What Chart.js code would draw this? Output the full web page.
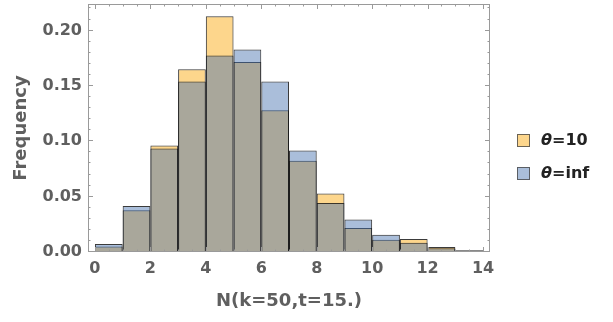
<!DOCTYPE html>
<html>
<head>
<meta charset="utf-8">
<script src="https://cdn.jsdelivr.net/npm/chart.js@4"></script>
<style>
  html, body { margin: 0; padding: 0; background: #fff; }
  canvas { display: block; }
</style>
</head>
<body>
<canvas id="chart" width="613" height="322"></canvas>
<script>
// histogram bins (left edges, width 1)
const binStarts = [0, 1, 2, 3, 4, 5, 6, 7, 8, 9, 10, 11, 12, 13];
const theta10 = [0.005, 0.0376, 0.0962, 0.165, 0.213, 0.1717, 0.128, 0.0824, 0.0529, 0.0217, 0.0111, 0.0117, 0.0045, 0.0016];
const thetaInf = [0.0072, 0.0415, 0.0935, 0.154, 0.1775, 0.183, 0.154, 0.0917, 0.0442, 0.0294, 0.0156, 0.0084, 0.0034, 0.0011];
const seriesLabels = ["θ=10", "θ=inf"];
const xTicks = [0, 2, 4, 6, 8, 10, 12, 14];
const yTicks = [0, 0.05, 0.10, 0.15, 0.20];

const FONT = "'DejaVu Sans', sans-serif";
const labelColor = "#5f5f5f";
const frameColor = "#9a9a9a";
const orange = "rgba(251, 164, 0, 0.45)";
const blue = "rgba(67, 111, 173, 0.45)";
const edge = "rgba(25, 25, 25, 0.85)";

function toPoints(values) {
  return values.map((v, i) => ({ x: binStarts[i] + 0.5, y: v }));
}

// frame with inward ticks on all four sides, like a Mathematica frame
const framePlugin = {
  id: "frame",
  afterDatasetsDraw(chart) {
    const { ctx, chartArea: a, scales: { x, y } } = chart;
    ctx.save();
    ctx.strokeStyle = frameColor;
    ctx.lineWidth = 1;
    ctx.strokeRect(a.left + 0.5, a.top + 0.5, a.right - a.left - 1, a.bottom - a.top - 1);
    ctx.beginPath();
    for (let k = 0; k <= 28; k++) {
      const v = k * 0.5;
      const px = Math.round(x.getPixelForValue(v)) + 0.5;
      const len = k % 4 === 0 ? 5 : 2.5;
      ctx.moveTo(px, a.bottom); ctx.lineTo(px, a.bottom - len);
      ctx.moveTo(px, a.top); ctx.lineTo(px, a.top + len);
    }
    for (let k = 0; k <= 22; k++) {
      const py = Math.round(y.getPixelForValue(k / 100)) - 0.5;
      const len = k % 5 === 0 ? 5 : 2.5;
      ctx.moveTo(a.left, py); ctx.lineTo(a.left + len, py);
      ctx.moveTo(a.right, py); ctx.lineTo(a.right - len, py);
    }
    ctx.stroke();
    ctx.restore();
  }
};

const legendPlugin = {
  id: "sideLegend",
  afterDraw(chart) {
    const { ctx } = chart;
    ctx.save();
    chart.data.datasets.forEach((ds, i) => {
      const cy = 140.5 + i * 33;
      ctx.fillStyle = "#fff";
      ctx.fillRect(517, cy - 6.5, 13, 13);
      ctx.fillStyle = ds.backgroundColor;
      ctx.fillRect(517, cy - 6.5, 13, 13);
      ctx.strokeStyle = "rgba(70,70,70,0.8)";
      ctx.lineWidth = 1;
      ctx.strokeRect(517.5, cy - 6, 12, 12);
      const text = ds.label;
      ctx.fillStyle = "#222";
      ctx.textBaseline = "middle";
      ctx.font = "italic bold 16px " + FONT;
      ctx.fillText(text[0], 541, cy);
      const w = ctx.measureText(text[0]).width;
      ctx.font = "bold 16px " + FONT;
      ctx.fillText(text.slice(1), 541 + w, cy);
    });
    ctx.restore();
  }
};

new Chart(document.getElementById("chart"), {
  type: "bar",
  data: {
    datasets: [
      {
        label: seriesLabels[0],
        data: toPoints(theta10),
        backgroundColor: orange,
        borderColor: edge,
        borderWidth: 1,
        order: 2
      },
      {
        label: seriesLabels[1],
        data: toPoints(thetaInf),
        backgroundColor: blue,
        borderColor: edge,
        borderWidth: 1,
        order: 1
      }
    ]
  },
  options: {
    responsive: false,
    animation: false,
    events: [],
    grouped: false,
    barPercentage: 1,
    categoryPercentage: 1,
    borderSkipped: false,
    inflateAmount: 0,
    layout: { padding: { top: 4, right: 123, left: 0, bottom: 0 } },
    plugins: { legend: { display: false }, tooltip: { enabled: false } },
    scales: {
      x: {
        type: "linear",
        offset: false,
        min: -0.25,
        max: 14.25,
        grid: { display: false, drawTicks: false, offset: false },
        border: { display: false },
        afterBuildTicks: s => { s.ticks = xTicks.map(v => ({ value: v })); },
        afterFit: s => { s.height = 70; s.paddingLeft = 0; s.paddingRight = 0; },
        ticks: {
          padding: 7,
          color: labelColor,
          maxRotation: 0,
          autoSkip: false,
          font: { family: FONT, size: 16, weight: "bold" },
          callback: v => String(v)
        },
        title: {
          display: true,
          text: "N(k=50,t=15.)",
          color: labelColor,
          font: { family: FONT, size: 18, weight: "bold", lineHeight: 1.2 },
          padding: { top: 0, bottom: 10 }
        }
      },
      y: {
        min: 0,
        max: 0.224,
        grid: { display: false, drawTicks: false },
        border: { display: false },
        afterBuildTicks: s => { s.ticks = yTicks.map(v => ({ value: v })); },
        afterFit: s => { s.width = 88; s.paddingTop = 0; s.paddingBottom = 0; },
        ticks: {
          padding: 6,
          color: labelColor,
          autoSkip: false,
          font: { family: FONT, size: 16, weight: "bold" },
          callback: v => v.toFixed(2)
        },
        title: {
          display: true,
          text: "Frequency",
          color: labelColor,
          font: { family: FONT, size: 18, weight: "bold", lineHeight: 1.2 },
          padding: { top: 11, bottom: 0 }
        }
      }
    }
  },
  plugins: [framePlugin, legendPlugin]
});
</script>
</body>
</html>
